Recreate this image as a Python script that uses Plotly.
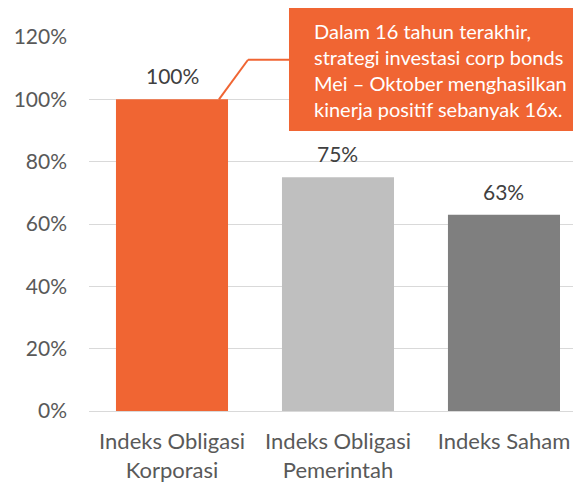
import plotly.graph_objects as go

categories = ["Indeks Obligasi<br>Korporasi", "Indeks Obligasi<br>Pemerintah", "Indeks Saham"]
values = [100, 75, 63]
value_labels = ["100%", "75%", "63%"]
bar_colors = ["#F06533", "#BFBFBF", "#7F7F7F"]
y_ticks = [0, 20, 40, 60, 80, 100, 120]
y_tick_labels = ["0%", "20%", "40%", "60%", "80%", "100%", "120%"]
note_text = ("Dalam 16 tahun terakhir,<br>strategi investasi corp bonds<br>"
             "Mei – Oktober menghasilkan<br>kinerja positif sebanyak 16x.")

FONT = "Lato"
fig = go.Figure()
fig.add_trace(go.Bar(x=[0, 1, 2], y=values, marker=dict(color=bar_colors, line=dict(width=0)),
                     width=0.675, hoverinfo="skip"))

for i, (v, lab) in enumerate(zip(values, value_labels)):
    fig.add_annotation(x=i, y=v, text=lab, showarrow=False, yanchor="bottom", yshift=9,
                       font=dict(family=FONT, size=21, color="#404040"))

# connector from first bar top to note box
fig.add_shape(type="line", xref="x", yref="y", x0=0.283, y0=values[0], x1=0.458, y1=112.7,
              line=dict(color="#F06533", width=2))
fig.add_shape(type="line", xref="x", yref="y", x0=0.458, y0=112.7, x1=0.71, y1=112.7,
              line=dict(color="#F06533", width=2))
# note box
fig.add_shape(type="rect", xref="paper", yref="paper", x0=0.4065, x1=1.0, y0=0.7487, y1=1.083,
              fillcolor="#F06533", line=dict(width=0), layer="above")
fig.add_annotation(xref="paper", yref="paper", x=0.453, y=0.912, xanchor="left", yanchor="middle",
                   align="left", showarrow=False, text=note_text,
                   font=dict(family=FONT, size=20, color="white"))

fig.update_layout(
    width=573, height=474,
    margin=dict(l=81, r=0, t=29, b=71),
    plot_bgcolor="white", paper_bgcolor="white",
    showlegend=False,
    font=dict(family=FONT, size=21, color="#595959"),
    xaxis=dict(tickmode="array", tickvals=[0, 1, 2], ticktext=categories, range=[-0.5, 2.464],
               showgrid=False, showline=False, zeroline=False, ticks="",
               tickfont=dict(family=FONT, size=22, color="#595959"), ticklabelstandoff=15),
    yaxis=dict(range=[0, 120], tickmode="array", tickvals=y_ticks, ticktext=y_tick_labels,
               showgrid=True, gridcolor="#D9D9D9", gridwidth=1, zeroline=True,
               zerolinecolor="#D9D9D9", zerolinewidth=1, showline=False, ticks="",
               tickfont=dict(family=FONT, size=21, color="#595959"), ticklabelstandoff=21),
)

fig.write_html("out.html")
